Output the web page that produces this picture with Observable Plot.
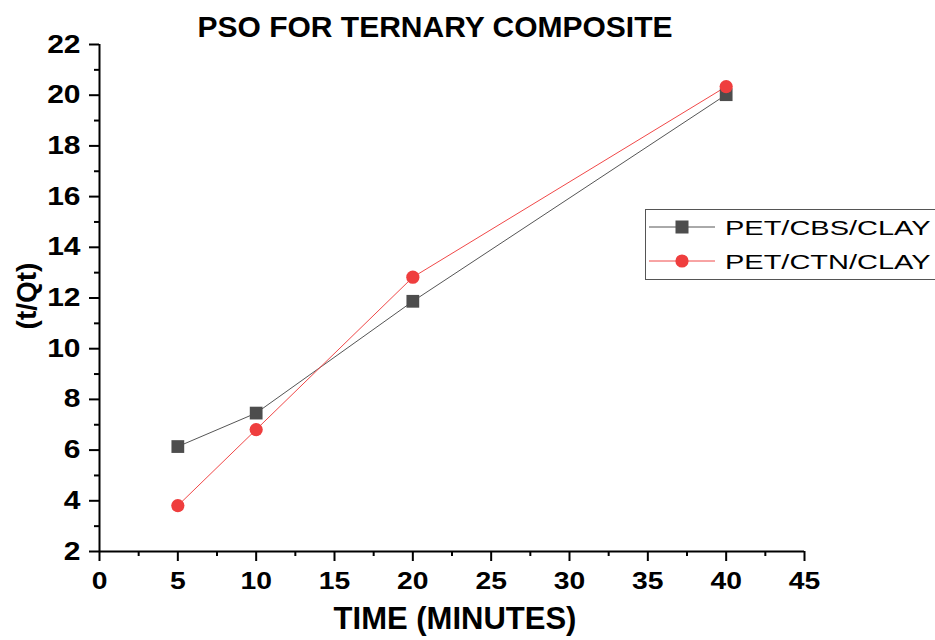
<!DOCTYPE html>
<html>
<head>
<meta charset="utf-8">
<script src="https://cdn.jsdelivr.net/npm/d3@7"></script>
<script src="https://cdn.jsdelivr.net/npm/@observablehq/plot@0.6"></script>
<style>
  html, body { margin: 0; padding: 0; background: #fff; }
  #chart svg { display: block; }
</style>
</head>
<body>
<div id="chart"></div>
<script>
// Pseudo-second-order kinetics: t/Qt against contact time
const times = [5, 10, 20, 40];
const cbsValues = [6.14, 7.46, 11.87, 20.02];
const ctnValues = [3.81, 6.81, 12.82, 20.34];
const seriesNames = ["PET/CBS/CLAY", "PET/CTN/CLAY"];
const xTicks = [0, 5, 10, 15, 20, 25, 30, 35, 40, 45];
const xMinor = [2.5, 7.5, 12.5, 17.5, 22.5, 27.5, 32.5, 37.5, 42.5];
const yTicks = [2, 4, 6, 8, 10, 12, 14, 16, 18, 20, 22];
const yMinor = [3, 5, 7, 9, 11, 13, 15, 17, 19, 21];

const colors = { cbs: "#4d4d4d", cbsLine: "#555555", ctn: "#ef3e3e", ctnLine: "#f04848" };
const font = "'Liberation Sans', Arial, sans-serif";

const cbs = times.map((t, i) => ({ t, v: cbsValues[i] }));
const ctn = times.map((t, i) => ({ t, v: ctnValues[i] }));

const plot = Plot.plot({
  width: 935,
  height: 640,
  marginLeft: 99,
  marginRight: 131,
  marginTop: 44,
  marginBottom: 89,
  style: { fontFamily: font, background: "#fff", overflow: "visible" },
  x: { domain: [0, 45] },
  y: { domain: [2, 22] },
  marks: [
    // axes
    Plot.ruleX([0], { stroke: "#000", strokeWidth: 2 }),
    Plot.ruleY([2], { stroke: "#000", strokeWidth: 2 }),
    Plot.axisX({ ticks: xTicks, tickSize: 10, tickPadding: 11, tickFormat: d => d, label: null,
      fontSize: 23, fontWeight: "bold", strokeWidth: 2 }),
    Plot.axisX({ ticks: xMinor, tickSize: 5, tickFormat: () => "", label: null, strokeWidth: 2 }),
    Plot.axisY({ ticks: yTicks, tickSize: 10, tickPadding: 9, tickFormat: d => d, label: null,
      fontSize: 25, fontWeight: "bold", strokeWidth: 2 }),
    Plot.axisY({ ticks: yMinor, tickSize: 5, tickFormat: () => "", label: null, strokeWidth: 2 }),
    // series
    Plot.line(cbs, { x: "t", y: "v", stroke: colors.cbsLine, strokeWidth: 1 }),
    Plot.line(ctn, { x: "t", y: "v", stroke: colors.ctnLine, strokeWidth: 1 }),
    Plot.dot(cbs, { x: "t", y: "v", symbol: "square", r: 7.2, fill: colors.cbs, stroke: "none" }),
    Plot.dot(ctn, { x: "t", y: "v", symbol: "circle", r: 6.6, fill: colors.ctn, stroke: "none" }),
    // titles
    Plot.text(["PSO FOR TERNARY COMPOSITE"], { frameAnchor: "top", lineAnchor: "middle", dy: -17, dx: -17,
      fontSize: 30, fontWeight: "bold", fill: "#000" }),
    Plot.text(["TIME (MINUTES)"], { frameAnchor: "bottom", lineAnchor: "middle", dy: 68, dx: 3,
      fontSize: 31, fontWeight: "bold", fill: "#000" }),
    Plot.text(["(t/Qt)"], { frameAnchor: "left", textAnchor: "middle", lineAnchor: "middle", dx: -72, dy: -2, rotate: -90,
      fontSize: 28, fontWeight: "bold", fill: "#000" })
  ]
});

document.getElementById("chart").appendChild(plot);

const svg = d3.select(plot);

// widen the tick labels horizontally about their own anchor point
function widen(selector, sx) {
  svg.selectAll(selector).selectAll("text").each(function () {
    const t = d3.select(this);
    const x = parseFloat(t.attr("x"));
    const x0 = Number.isFinite(x) ? x : 0;
    const base = t.attr("transform") || "";
    t.attr("transform", `${base} translate(${x0},0) scale(${sx},1) translate(${-x0},0)`);
  });
}
widen("g[aria-label='x-axis tick label']", 1.23);
widen("g[aria-label='y-axis tick label']", 1.2);

// legend box at the right, partly running past the frame edge
const lg = svg.append("g").attr("font-family", font).attr("text-anchor", "start");
lg.append("rect").attr("x", 645.5).attr("y", 209.5).attr("width", 320).attr("height", 70)
  .attr("fill", "#fff").attr("stroke", "#555").attr("stroke-width", 1);
const rows = [
  { name: seriesNames[0], line: colors.cbsLine, fill: colors.cbs, shape: "square", y: 227 },
  { name: seriesNames[1], line: colors.ctnLine, fill: colors.ctn, shape: "circle", y: 261 }
];
rows.forEach(r => {
  lg.append("line").attr("x1", 649).attr("x2", 715).attr("y1", r.y).attr("y2", r.y)
    .attr("stroke", r.line).attr("stroke-width", 1);
  if (r.shape === "square") {
    lg.append("rect").attr("x", 682 - 6.5).attr("y", r.y - 6.5).attr("width", 13).attr("height", 13).attr("fill", r.fill);
  } else {
    lg.append("circle").attr("cx", 682).attr("cy", r.y).attr("r", 6.6).attr("fill", r.fill);
  }
  lg.append("text").attr("transform", `translate(725,${r.y}) scale(1.38,1)`).attr("dy", "0.36em")
    .attr("text-anchor", "start").attr("font-size", 21).attr("fill", "#000").text(r.name);
});
</script>
</body>
</html>
